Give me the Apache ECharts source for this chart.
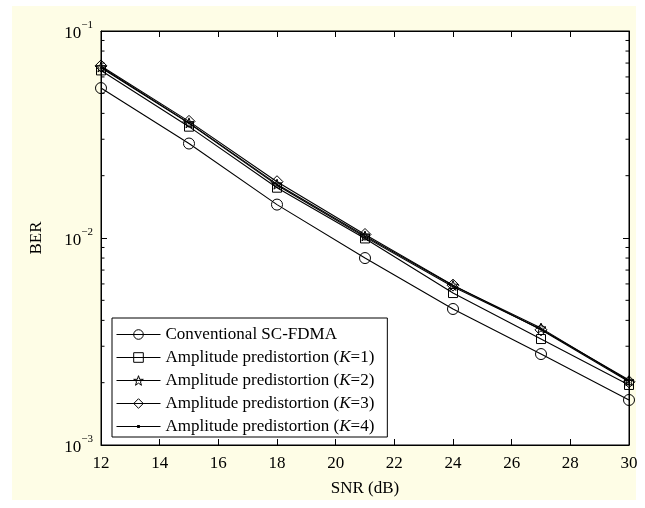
<!DOCTYPE html>
<html><head><meta charset="utf-8">
<script src="https://cdn.jsdelivr.net/npm/echarts@6/dist/echarts.min.js"></script>
<style>
html,body{margin:0;padding:0;background:#fff;}
#bg{position:absolute;left:12px;top:6px;width:624px;height:494px;background:#fefde6;}
#c{position:absolute;left:0;top:0;width:645px;height:508px;}
</style></head>
<body><div id="bg"></div><div id="c"></div>
<script>
const snr = [12, 15, 18, 21, 24, 27, 30];
const conventional = [0.0530, 0.0286, 0.0145, 0.0080, 0.00454, 0.00275, 0.00165];
const k1 = [0.0645, 0.0345, 0.0175, 0.00995, 0.00542, 0.00325, 0.00195];
const k2 = [0.0670, 0.0360, 0.0182, 0.01023, 0.00590, 0.00367, 0.00204];
const k3 = [0.0678, 0.0366, 0.0187, 0.01040, 0.00592, 0.00360, 0.00202];
const k4 = [0.0665, 0.0358, 0.0180, 0.01010, 0.00582, 0.00362, 0.00206];
const seriesNames = ['Conventional SC-FDMA', 'Amplitude predistortion (K=1)', 'Amplitude predistortion (K=2)', 'Amplitude predistortion (K=3)', 'Amplitude predistortion (K=4)'];
const xTicks = [12, 14, 16, 18, 20, 22, 24, 26, 28, 30];
const yMinorTicks = [0.002,0.003,0.004,0.005,0.006,0.007,0.008,0.009,0.02,0.03,0.04,0.05,0.06,0.07,0.08,0.09];

const FONT = '"Liberation Serif", "Times New Roman", serif';
const starPath = 'path://M0,-10 L2.35,-3.24 L9.51,-3.09 L3.8,1.24 L5.88,8.09 L0,4 L-5.88,8.09 L-3.8,1.24 L-9.51,-3.09 L-2.35,-3.24 Z';
const dotLineIcon = 'path://M0,0 L0.05,0 L0,0.05 Z M44,12 L43.95,12 L44,11.95 Z M0,5.5 L44,5.5 L44,6.5 L0,6.5 Z M20.6,4.6 L23.4,4.6 L23.4,7.4 L20.6,7.4 Z';

function mk(name, data, symbol, size) {
  return {
    name: name, type: 'line',
    data: snr.map((x, i) => [x, data[i]]),
    symbol: symbol, symbolSize: size, showSymbol: true,
    lineStyle: {color: '#000', width: 1.1},
    itemStyle: {color: 'rgba(0,0,0,0)', borderColor: '#000', borderWidth: 1},
    emphasis: {disabled: true}, animation: false, z: 3
  };
}

const chart = echarts.init(document.getElementById('c'), null, {renderer: 'canvas'});
const yFmt = v => {
  const e = Math.round(Math.log10(v));
  return '{b|10}{s|' + (e < 0 ? '\u2212' + (-e) : e) + '}';
};
const yRich = {
  b: {fontFamily: FONT, fontSize: 17, color: '#000', verticalAlign: 'bottom', lineHeight: 18},
  s: {fontFamily: FONT, fontSize: 11, color: '#000', verticalAlign: 'top', lineHeight: 22}
};
const k4Series = mk(seriesNames[4], k4, 'none', 2);
k4Series.itemStyle = {color: '#000', borderWidth: 0};
chart.setOption({
  backgroundColor: 'transparent',
  animation: false,
  grid: {left: 101, right: 16, top: 31, bottom: 63, show: true, borderColor: '#000', borderWidth: 1, backgroundColor: '#fff'},
  xAxis: [{
    type: 'value', min: 12, max: 30, interval: 2,
    name: 'SNR (dB)', nameLocation: 'middle', nameGap: 35,
    nameTextStyle: {fontFamily: FONT, fontSize: 17, color: '#000'},
    axisLine: {show: true, lineStyle: {color: '#000', width: 1}},
    axisTick: {show: true, inside: true, length: 6, lineStyle: {color: '#000'}},
    axisLabel: {fontFamily: FONT, fontSize: 17, color: '#000', margin: 10, customValues: xTicks},
    splitLine: {show: false}
  }, {
    type: 'value', min: 12, max: 30, interval: 2, position: 'top',
    axisLine: {show: true, lineStyle: {color: '#000', width: 1}},
    axisTick: {show: true, inside: true, length: 6, lineStyle: {color: '#000'}},
    axisLabel: {show: false}, splitLine: {show: false}
  }],
  yAxis: [{
    type: 'log', logBase: 10, min: 0.001, max: 0.1,
    name: 'BER', nameLocation: 'middle', nameGap: 56, nameRotate: 90,
    nameTextStyle: {fontFamily: FONT, fontSize: 17, color: '#000'},
    axisLine: {show: true, lineStyle: {color: '#000', width: 1}},
    axisTick: {show: true, inside: true, length: 6, lineStyle: {color: '#000'}},
    axisLabel: {formatter: yFmt, rich: yRich, margin: 8},
    splitLine: {show: false}, minorTick: {show: false}
  }, {
    type: 'log', logBase: 10, min: 0.001, max: 0.1, position: 'right',
    axisLine: {show: true, lineStyle: {color: '#000', width: 1}},
    axisTick: {show: true, inside: true, length: 6, lineStyle: {color: '#000'}},
    axisLabel: {show: false}, splitLine: {show: false}
  }],
  legend: {
    orient: 'vertical', left: 112, top: 318,
    data: seriesNames.map((n, i) => i === 4 ? {name: n, icon: dotLineIcon} : n),
    itemWidth: 44, itemHeight: 12, itemGap: 6,
    padding: [8, 13, 2, 4],
    backgroundColor: '#fff', borderColor: '#000', borderWidth: 1, borderRadius: 0,
    selectedMode: false,
    lineStyle: {width: 1},
    itemStyle: {borderWidth: 1},
    formatter: n => n.replace(/\(K=(\d)\)/, '({i|K}=$1)'),
    textStyle: {fontFamily: FONT, fontSize: 17, color: '#000',
      rich: {i: {fontFamily: FONT, fontSize: 17, fontStyle: 'italic', color: '#000'}}}
  },
  series: [
    mk(seriesNames[0], conventional, 'circle', 11),
    mk(seriesNames[1], k1, 'rect', 9),
    mk(seriesNames[2], k2, starPath, 10),
    mk(seriesNames[3], k3, 'diamond', 12),
    k4Series,
    {
      type: 'scatter', name: 'k4dots', silent: true, animation: false, z: 4,
      data: snr.map((x, i) => [x, k4[i]]),
      symbol: 'circle', symbolSize: 2.5, itemStyle: {color: '#000'}
    },
    {
      type: 'custom', name: 'minor', silent: true, animation: false, z: 5,
      data: yMinorTicks.map(v => [12, v]),
      renderItem: (params, api) => {
        const v = api.value(1);
        const l = api.coord([12, v]);
        const r = api.coord([30, v]);
        const st = {stroke: '#000', lineWidth: 1};
        return {type: 'group', children: [
          {type: 'line', shape: {x1: l[0], y1: l[1], x2: l[0] + 3.5, y2: l[1]}, style: st},
          {type: 'line', shape: {x1: r[0], y1: r[1], x2: r[0] - 3.5, y2: r[1]}, style: st}
        ]};
      }
    }
  ]
});
</script></body></html>
